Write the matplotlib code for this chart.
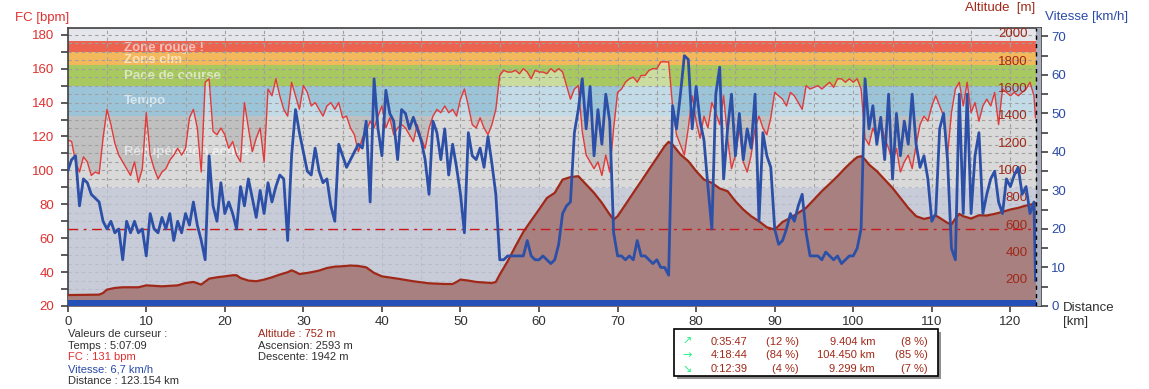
import numpy as np
import matplotlib
matplotlib.use("Agg")
import matplotlib.pyplot as plt
from matplotlib.patches import Rectangle

plt.rcParams['font.family'] = ['Liberation Sans', 'DejaVu Sans']

# === DONNEES ===
dist = list(np.arange(0, 123.5, 0.5)) + [123.2]   # km, un point tous les 500 m

fc = [118, 117, 105, 99, 108, 105, 97, 99, 98, 119,
      136, 127, 116, 109, 105, 101, 97, 105, 93, 101,
      134, 109, 101, 95, 99, 101, 106, 109, 113, 109,
      113, 131, 136, 125, 99, 152, 154, 123, 121, 125,
      121, 113, 117, 109, 105, 140, 125, 111, 119, 125,
      105, 148, 144, 154, 144, 136, 132, 152, 144, 136,
      150, 146, 138, 140, 136, 132, 138, 140, 136, 140,
      131, 132, 125, 121, 111, 119, 123, 129, 125, 132,
      138, 125, 131, 121, 125, 127, 125, 121, 117, 127,
      119, 113, 125, 132, 136, 134, 138, 134, 136, 132,
      142, 148, 138, 127, 125, 131, 125, 121, 127, 136,
      156, 159, 158, 158, 159, 157, 160, 158, 154, 159,
      158, 158, 157, 160, 158, 160, 158, 150, 142, 148,
      150, 123, 109, 105, 101, 105, 97, 109, 99, 125,
      146, 148, 152, 154, 155, 152, 156, 156, 159, 160,
      160, 164, 164, 164, 138, 121, 115, 109, 125, 144,
      129, 119, 132, 125, 140, 134, 127, 144, 119, 101,
      109, 125, 105, 99, 109, 125, 132, 125, 121, 131,
      146, 144, 142, 138, 146, 144, 140, 136, 150, 148,
      149, 150, 148, 150, 152, 149, 154, 154, 152, 154,
      152, 154, 148, 119, 115, 125, 119, 129, 119, 113,
      105, 113, 99, 105, 109, 101, 115, 127, 132, 129,
      138, 144, 138, 132, 109, 134, 148, 152, 138, 152,
      134, 140, 129, 138, 142, 138, 146, 127, 148, 146,
      144, 146, 144, 146, 148, 152, 144, 131]

vitesse = [35, 38, 39, 26, 33, 32, 29, 28, 27, 22,
           20, 22, 19, 20, 12, 22, 19, 22, 19, 20,
           13, 24, 20, 19, 23, 20, 24, 17, 22, 19,
           24, 21, 27, 21, 17, 12, 39, 26, 22, 32,
           24, 27, 24, 20, 31, 26, 33, 28, 23, 30,
           24, 32, 27, 31, 34, 33, 17, 39, 51, 45,
           40, 35, 34, 41, 35, 32, 33, 26, 22, 42,
           39, 36, 38, 40, 42, 41, 48, 27, 59, 46,
           39, 56, 50, 48, 38, 51, 50, 46, 49, 46,
           43, 38, 29, 48, 45, 38, 46, 34, 42, 36,
           29, 19, 45, 39, 38, 41, 36, 44, 37, 29,
           12, 12, 13, 13, 13, 13, 13, 17, 13, 12,
           12, 13, 12, 11, 12, 16, 24, 26, 27, 45,
           51, 59, 46, 57, 39, 51, 42, 55, 48, 19,
           13, 13, 12, 13, 12, 17, 13, 13, 12, 11,
           12, 10, 10, 8, 52, 46, 55, 65, 64, 46,
           57, 48, 43, 31, 20, 55, 62, 33, 46, 55,
           39, 50, 38, 46, 41, 55, 22, 45, 39, 36,
           20, 16, 17, 20, 24, 22, 26, 29, 19, 13,
           13, 13, 12, 14, 13, 12, 13, 11, 12, 13,
           13, 15, 20, 59, 46, 52, 42, 49, 38, 55,
           33, 50, 39, 48, 42, 55, 42, 36, 39, 33,
           22, 24, 46, 50, 38, 15, 12, 55, 24, 55,
           24, 39, 45, 24, 29, 33, 35, 27, 24, 33,
           31, 34, 36, 29, 31, 24, 27, 6.7]

alt_km = [0, 4, 4.5, 5, 6, 7, 9, 10, 12, 14, 15, 16, 17, 18, 19, 20, 21, 21.5, 22, 23,
          24, 25, 26, 27, 28, 28.5, 29, 29.5, 30.5, 31, 32, 33, 34, 35, 36, 37, 38, 39,
          40, 42, 44, 46, 48, 49, 49.5, 50, 51, 52, 54, 54.5, 55, 56, 57, 58, 59, 60,
          61, 62, 63, 64, 65, 66, 67, 68, 69, 69.5, 70, 71, 72, 73, 74, 75, 76, 76.5,
          77, 78, 79, 80, 81, 82, 83, 84, 85, 86, 87, 88, 89, 90, 91, 92, 93, 94, 95,
          96, 97, 98, 99, 100, 100.5, 101, 101.5, 102, 103, 104, 105, 106, 107, 108,
          109, 110, 110.5, 111, 112, 112.5, 113, 113.5, 114, 115, 116, 117, 118, 119,
          120, 121, 122, 123, 123.2]
altitude = [80, 83, 95, 120, 132, 137, 137, 151, 144, 151, 168, 176, 157, 200, 210, 217,
            225, 225, 205, 186, 181, 193, 210, 230, 247, 261, 249, 234, 242, 247, 259,
            278, 288, 291, 296, 293, 283, 242, 217, 200, 181, 166, 161, 161, 176, 193,
            186, 176, 168, 176, 230, 327, 437, 542, 625, 706, 790, 828, 925, 943, 950,
            889, 828, 755, 669, 633, 657, 742, 828, 913, 999, 1084, 1170, 1201, 1182,
            1109, 1060, 987, 925, 901, 860, 840, 767, 706, 657, 620, 576, 559, 615, 645,
            681, 718, 779, 840, 894, 950, 1011, 1065, 1089, 1096, 1072, 1035, 987, 925,
            864, 791, 718, 657, 637, 650, 662, 645, 608, 596, 640, 674, 657, 640, 664,
            662, 674, 689, 706, 718, 735, 747, 752]

# zones de FC
zone_noms = ["Récupération active", "Tempo", "Pace de course", "Zone clm", "Zone rouge !"]
zone_bas = [90, 132, 150, 162, 170]
zone_haut = [132, 150, 162, 170, 176.5]
zone_couleurs = ['#c0c0c0', '#9cc4d8', '#a8c860', '#f4b85c', '#ec6450']
zone_label_y = [110.8, 141.1, 155.5, 165.3, 172.2]

vitesse_ref = 20
curseur_km = 123.2
fin_km = 123.9

texte_curseur = [("Valeurs de curseur :", '#303030'),
                 ("Temps : 5:07:09", '#303030'),
                 ("FC : 131 bpm", '#e03030'),
                 ("Vitesse: 6,7 km/h", '#2a4aa8'),
                 ("Distance : 123.154 km", '#303030')]
texte_alt = [("Altitude : 752 m", '#a02818'),
             ("Ascension: 2593 m", '#303030'),
             ("Descente: 1942 m", '#303030')]
tab_fleches = ["↗", "→", "↘"]
tab_temps = ["0:35:47", "4:18:44", "0:12:39"]
tab_pct_t = ["(12 %)", "(84 %)", "(4 %)"]
tab_dist = ["9.404 km", "104.450 km", "9.299 km"]
tab_pct_d = ["(8 %)", "(85 %)", "(7 %)"]

# === COULEURS ===
ROUGE = '#e03030'
BLEU = '#2a4aa8'
BRUN = '#a02818'
GRIS = '#404040'

W, H = 1149, 389
fig = plt.figure(figsize=(W / 100, H / 100), dpi=100, facecolor='white')
ax = fig.add_axes([67.7 / W, 83 / H, (1041 - 67.7) / W, 277.7 / H])
ax_alt = ax.twinx()
ax_spd = ax.twinx()

ax.set_xlim(0, fin_km)
ax.set_ylim(20, 183.8)
ax_alt.set_ylim(0, 2032)
ax_spd.set_ylim(0, 72.1)

# --- fond + zones ---
ax.axhspan(20, 90, color='#c8ccd8', lw=0, zorder=0)
for lo, hi, c in zip(zone_bas, zone_haut, zone_couleurs):
    ax.axhspan(lo, hi, color=c, lw=0, zorder=0)
ax.axhspan(176.5, 184, color='#e4e6ec', lw=0, zorder=0)

fc_arr = np.array(fc)
ax.fill_between(dist, 90, np.maximum(fc_arr, 90), color='white', alpha=0.4, lw=0, zorder=0.5)

for nom, y in zip(zone_noms, zone_label_y):
    ax.text(7.17, y, nom, fontsize=9.5, fontweight='bold', color='white', alpha=0.6,
            va='center', ha='left', zorder=0.8)

# grille pointillée (5 km / 5 bpm), plus claire sous la zone de récupération
ax.vlines(range(5, 121, 5), 90, 183.8, color='#a0a0a0', ls=(0, (3, 3)), lw=0.8, zorder=1)
ax.vlines(range(5, 121, 5), 20, 90, color='#b8bcc8', ls=(0, (3, 3)), lw=0.8, zorder=1)
for yg in range(25, 181, 5):
    ax.axhline(yg, color='#a0a0a0' if yg > 90 else '#b8bcc8', ls=(0, (3, 3)), lw=0.8, zorder=1)

ax.plot(dist, fc, color='#e23a3a', lw=1.0, zorder=2)

# --- altitude ---
ax_alt.fill_between(alt_km, 0, altitude, color='#a88080', lw=0)
ax_alt.plot(alt_km, altitude, color=BRUN, lw=1.6)

# --- vitesse ---
ax_spd.axhline(vitesse_ref, color='#c81818', lw=1, ls=(0, (7, 4, 2, 4)))
ax_spd.plot(dist, vitesse, color='#2c50a8', lw=2.0)
ax_spd.add_patch(Rectangle((0, 0), 1, 6 / 277.7, transform=ax_spd.transAxes,
                           color='#2450b8', lw=0, zorder=3))
ax_spd.axvspan(curseur_km + 0.1, fin_km, color='#a8aebe', lw=0, zorder=3)
ax_spd.axvline(curseur_km, color='black', lw=1, ls=(0, (3, 3)), zorder=4)
ax.text(56.1, 25.5, "136 bpm 123.2 km", fontsize=8, color='#505050', ha='center', va='center', zorder=3)

# --- axes ---
for a in (ax, ax_alt, ax_spd):
    for s in a.spines.values():
        s.set_visible(False)
for s in ('left', 'bottom', 'top'):
    ax.spines[s].set_visible(True)
    ax.spines[s].set_color(GRIS)
    ax.spines[s].set_linewidth(1.2)
ax_spd.spines['right'].set_visible(True)
ax_spd.spines['right'].set_color(GRIS)
ax_spd.spines['right'].set_linewidth(1.2)

ax.set_xticks(range(0, 121, 10))
ax.set_yticks(range(20, 181, 20))
ax.set_yticks(range(30, 181, 20), minor=True)
ax.tick_params(axis='y', which='both', colors=GRIS, labelcolor=ROUGE, length=5, width=1.2,
               labelsize=9.5, pad=4.5)
ax.tick_params(axis='x', which='major', colors=GRIS, labelcolor='#303030', length=4, width=1.2,
               labelsize=9.5, pad=3)

ax_alt.set_yticks(range(200, 2001, 200))
ax_alt.tick_params(axis='y', length=0, pad=-9.5, labelcolor=BRUN, labelsize=9.5)
plt.setp(ax_alt.get_yticklabels(), ha='right')

ax_spd.set_yticks(range(0, 71, 10))
ax_spd.set_yticks(range(5, 71, 10), minor=True)
ax_spd.tick_params(axis='y', which='both', colors=GRIS, labelcolor=BLEU, length=5, width=1.2,
                   labelsize=9.5, pad=2.5)

# --- titres ---
fig.text(15 / W, 1 - 18 / H, "FC [bpm]", color=ROUGE, fontsize=9.5, va='center', ha='left')
fig.text(1035 / W, 1 - 8 / H, "Altitude  [m]", color=BRUN, fontsize=9.5, va='center', ha='right')
fig.text(1045 / W, 1 - 17 / H, "Vitesse [km/h]", color=BLEU, fontsize=9.5, va='center', ha='left')
fig.text(1063 / W, 1 - 308 / H, "Distance", color='#303030', fontsize=9.5, va='center', ha='left')
fig.text(1063 / W, 1 - 322 / H, "[km]", color='#303030', fontsize=9.5, va='center', ha='left')

# --- infos curseur ---
for i, (t, c) in enumerate(texte_curseur):
    fig.text(68 / W, 1 - (334 + 11.7 * i) / H, t, color=c, fontsize=8, va='center', ha='left')
for i, (t, c) in enumerate(texte_alt):
    fig.text(258 / W, 1 - (334 + 11.7 * i) / H, t, color=c, fontsize=8, va='center', ha='left')

# --- tableau montee / plat / descente ---
fig.add_artist(Rectangle((677 / W, 1 - 379 / H), 264 / W, 46.7 / H, transform=fig.transFigure,
                         facecolor='#909090', edgecolor='none'))
fig.add_artist(Rectangle((674 / W, 1 - 376 / H), 264 / W, 46.7 / H, transform=fig.transFigure,
                         facecolor='white', edgecolor='black', lw=1.2))
for i in range(3):
    y = 1 - (341.7 + 13.8 * i) / H
    fig.text(687 / W, y, tab_fleches[i], color='#20f080', fontsize=8, va='center', ha='center',
             family='DejaVu Sans')
    fig.text(711 / W, y, tab_temps[i], color=BRUN, fontsize=8, va='center', ha='left')
    fig.text(799 / W, y, tab_pct_t[i], color=BRUN, fontsize=8, va='center', ha='right')
    fig.text(875 / W, y, tab_dist[i], color=BRUN, fontsize=8, va='center', ha='right')
    fig.text(928 / W, y, tab_pct_d[i], color=BRUN, fontsize=8, va='center', ha='right')

fig.savefig("out.png", dpi=100)
